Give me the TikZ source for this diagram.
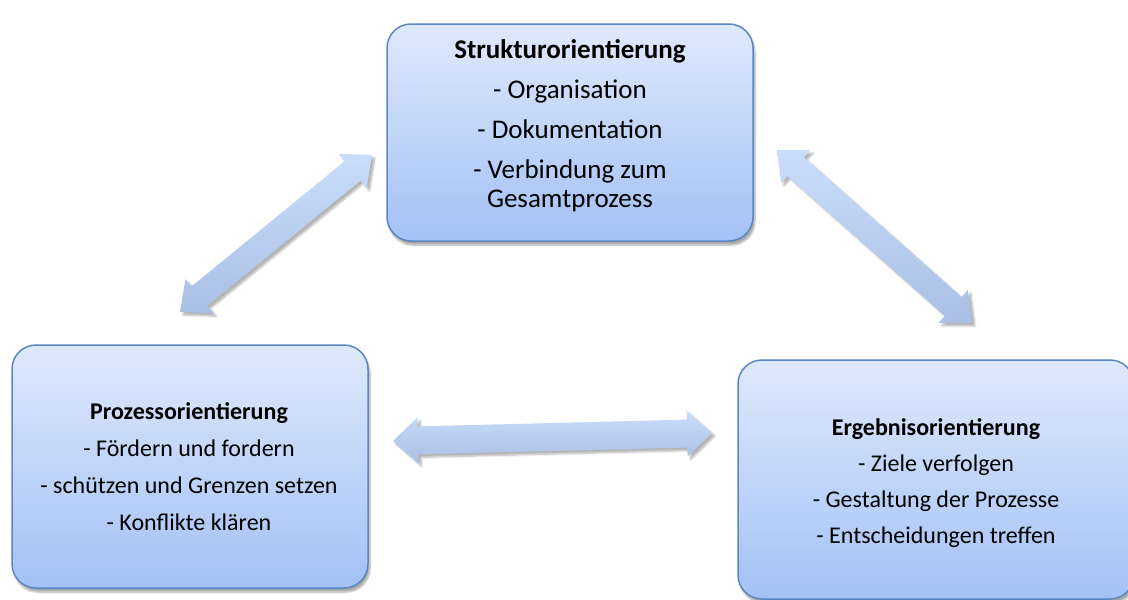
\documentclass[tikz,border=0pt]{standalone}
\usepackage{fontspec}
\setmainfont{Carlito}
\usetikzlibrary{calc,shadows.blur}
\definecolor{boxborder}{HTML}{5A86C4}
\definecolor{boxtop}{HTML}{DFE9FC}
\definecolor{boxbot}{HTML}{A3C1F5}
\definecolor{arrtop}{HTML}{CADDFB}
\definecolor{arrbot}{HTML}{A9BFE4}
\tikzset{
  orientbox/.style={draw=boxborder, line width=1.5pt, rounded corners=24pt,
    top color=boxtop, bottom color=boxbot,
    blur shadow={shadow xshift=2pt, shadow yshift=-4pt, shadow blur steps=6, shadow opacity=35}},
  bigtext/.style={align=center, inner sep=0pt, font=\fontsize{27}{29}\selectfont},
  smalltext/.style={align=center, inner sep=0pt, font=\fontsize{24}{28}\selectfont},
  dblarrow/.style={top color=arrtop, bottom color=arrbot, draw=none,
    blur shadow={shadow xshift=3pt, shadow yshift=-3pt, shadow blur steps=6, shadow opacity=30}}
}
% #1,#2 tips; #3 half shaft width; #4 half head width; #5 head length
\newcommand{\dblarr}[5]{%
  \coordinate (#1#2ha) at ($(#1)!#5!(#2)$);
  \coordinate (#1#2hb) at ($(#2)!#5!(#1)$);
  \path[dblarrow] (#1)
    -- ($(#1#2ha)!#4!90:(#2)$) -- ($(#1#2ha)!#3!90:(#2)$)
    -- ($(#1#2hb)!#3!-90:(#1)$) -- ($(#1#2hb)!#4!-90:(#1)$)
    -- (#2)
    -- ($(#1#2hb)!#4!90:(#1)$) -- ($(#1#2hb)!#3!90:(#1)$)
    -- ($(#1#2ha)!#3!-90:(#2)$) -- ($(#1#2ha)!#4!-90:(#2)$)
    -- cycle;
}
\begin{document}
\begin{tikzpicture}[x=1pt, y=-1pt]
\useasboundingbox (0,0) rectangle (1128,600);
\clip (0,0) rectangle (1128,600);

% boxes
\node[orientbox, minimum width=366pt, minimum height=217pt] (struk) at (570,132.5) {};
\node[orientbox, minimum width=356pt, minimum height=243pt] (proz) at (190,466.5) {};
\node[orientbox, minimum width=396pt, minimum height=239pt] (ergeb) at (936,479.5) {};

\node[bigtext] (strukt) at (570,126) {\textbf{Strukturorientierung}\\[11pt]
  - Organisation\\[11pt]
  - Dokumentation\\[11pt]
  - Verbindung zum\\
  Gesamtprozess};
\node[smalltext] (prozt) at (189,467) {\textbf{Prozessorientierung}\\[9pt]
  - Fördern und fordern\\[9pt]
  - schützen und Grenzen setzen\\[9pt]
  - Konflikte klären};
\node[smalltext] (ergebt) at (936,483) {\textbf{Ergebnisorientierung}\\[8pt]
  - Ziele verfolgen\\[8pt]
  - Gestaltung der Prozesse\\[8pt]
  - Entscheidungen treffen};

% arrow end points
\coordinate (la) at (180,312);
\coordinate (lb) at (372,155);
\coordinate (ra) at (777,150);
\coordinate (rb) at (972,323);
\coordinate (ha) at (393,441);
\coordinate (hb) at (712,433);

\dblarr{la}{lb}{12.5pt}{22pt}{25pt}
\dblarr{ra}{rb}{12.5pt}{22pt}{25pt}
\dblarr{ha}{hb}{14pt}{23pt}{25pt}
\end{tikzpicture}
\end{document}
